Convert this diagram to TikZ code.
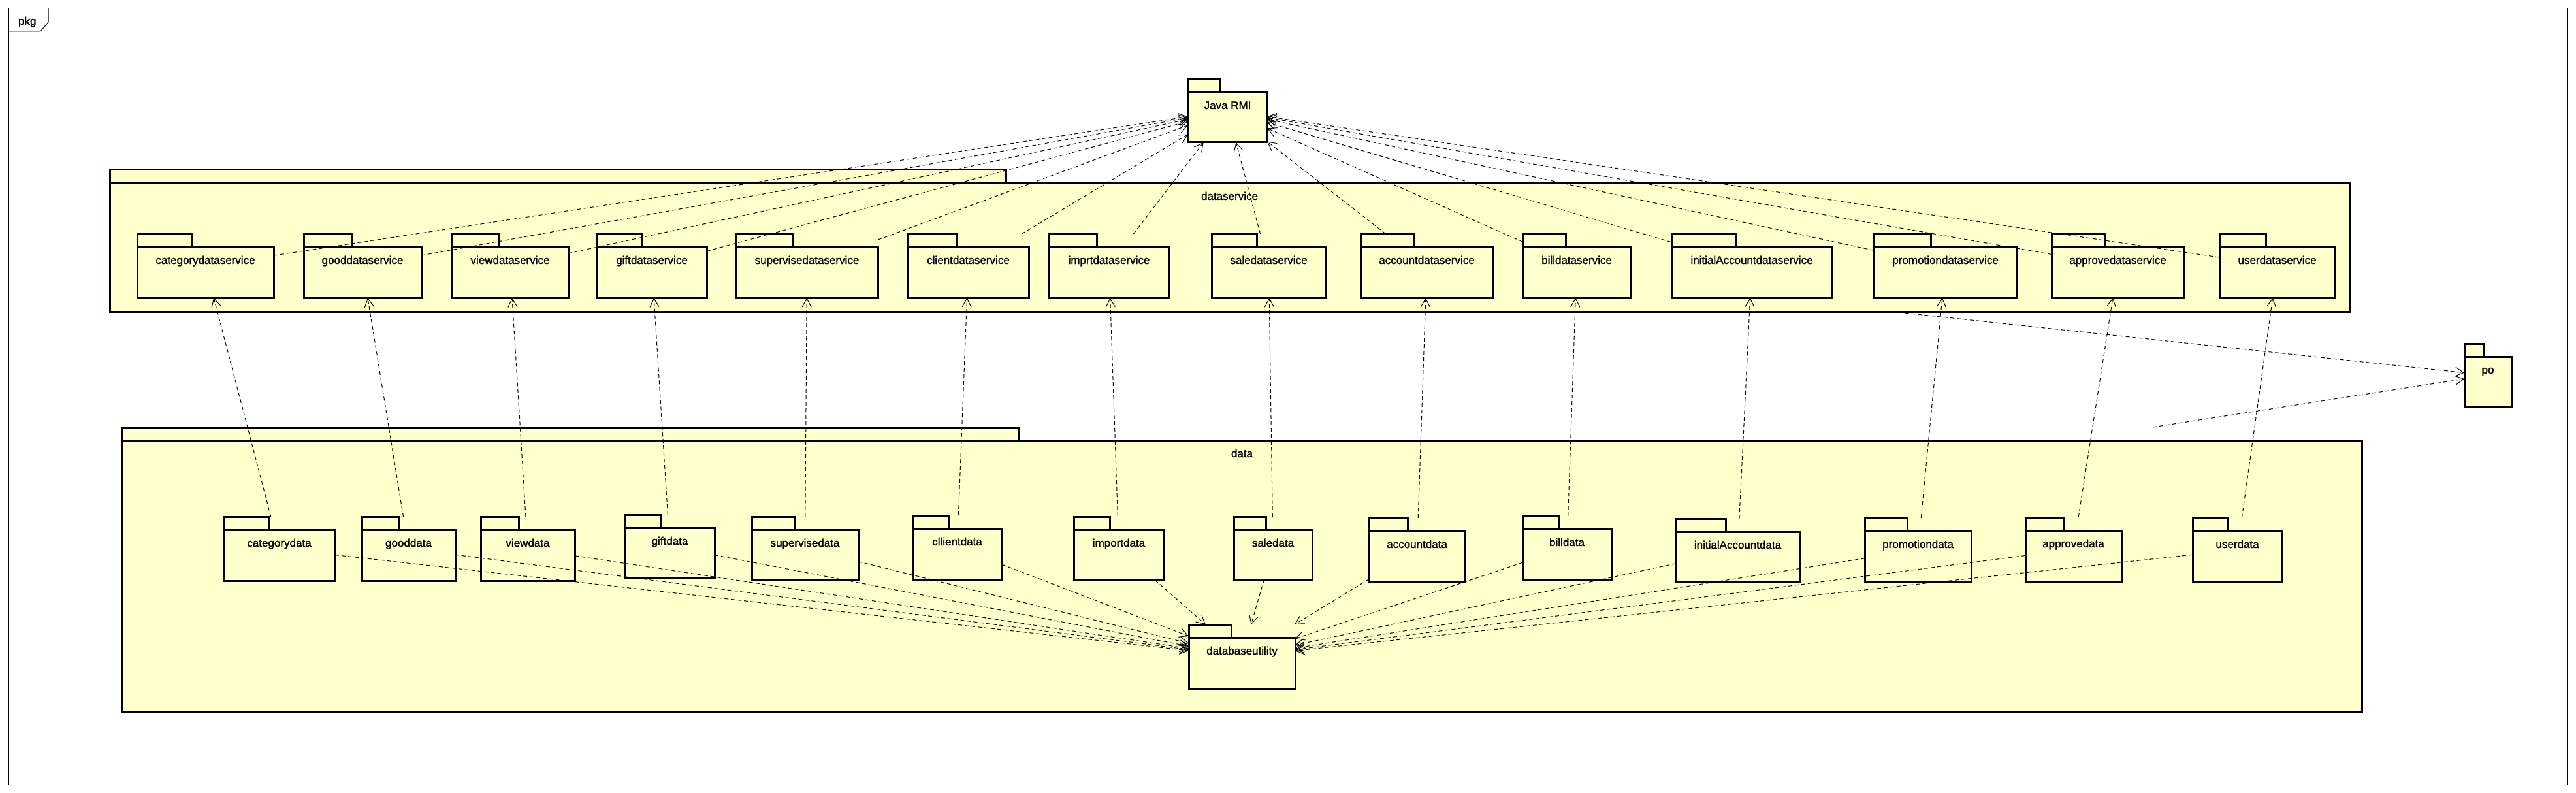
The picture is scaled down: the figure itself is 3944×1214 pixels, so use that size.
\documentclass[tikz,border=0pt]{standalone}
\usepackage{fontspec}
\setmainfont{Liberation Sans}
\newfontfamily\pkgfont{Liberation Sans}[FakeBold=1.5]
\usetikzlibrary{arrows.meta,fit}
\definecolor{pkgfill}{HTML}{FFFFCC}
\tikzset{
  pkgline/.style={draw=black, line width=1.5pt, fill=pkgfill},
  pkglabel/.style={font=\pkgfont\fontsize{8.5pt}{10pt}\selectfont, inner sep=0pt, outer sep=0pt},
  pkgbox/.style={inner sep=0pt, outer sep=0pt},
  dep/.style={line width=0.5pt, dash pattern=on 3pt off 2pt, -{Straight Barb[length=6.5pt,width=7pt]}},
  frameline/.style={draw=black, line width=0.5pt}
}
% #1 name, #2 left, #3 tab top, #4 tab right, #5 body top, #6 right, #7 bottom, #8 label
\newcommand\umlpkg[8]{%
  \draw[pkgline] (#2,#3) rectangle (#4,#5);
  \draw[pkgline] (#2,#5) rectangle (#6,#7);
  \node[pkgbox, fit={(#2,#3) (#6,#7)}] (#1) {};
  \node[pkglabel, anchor=base] (#1-l) at ({(#2+#6)/2},{#5+26}) {#8};
}
\begin{document}
\begin{tikzpicture}[x=0.5pt,y=-0.5pt]
\useasboundingbox (0,0) rectangle (3944,1214);
% frame
\draw[frameline] (13,13) rectangle (3930,1201);
\draw[frameline] (13,48) -- (62,48) -- (74,34) -- (74,13);
\node[pkglabel, anchor=base west] (pkgname) at (28,38) {pkg};

% outer packages
\umlpkg{ds}{168}{260}{1540}{280}{3597}{477}{dataservice}
\umlpkg{data}{187}{654}{1559}{674}{3616}{1089}{data}

% Java RMI and po
\umlpkg{rmi}{1819}{121}{1868}{141}{1940}{218}{Java RMI}
\umlpkg{po}{3773}{526}{3802}{546}{3845}{623}{po}

% dataservice row
\umlpkg{cds}{210}{358}{294}{378}{419}{456}{categorydataservice}
\umlpkg{gds}{465}{358}{538}{378}{645}{456}{gooddataservice}
\umlpkg{vds}{692}{358}{764}{378}{870}{456}{viewdataservice}
\umlpkg{gifds}{914}{358}{982}{378}{1082}{456}{giftdataservice}
\umlpkg{sds}{1127}{358}{1214}{378}{1344}{456}{supervisedataservice}
\umlpkg{clds}{1390}{358}{1464}{378}{1575}{456}{clientdataservice}
\umlpkg{ids}{1606}{358}{1679}{378}{1790}{456}{imprtdataservice}
\umlpkg{sads}{1855}{358}{1924}{378}{2030}{456}{saledataservice}
\umlpkg{ads}{2083}{358}{2164}{378}{2286}{456}{accountdataservice}
\umlpkg{bds}{2332}{358}{2397}{378}{2496}{456}{billdataservice}
\umlpkg{iads}{2559}{358}{2658}{378}{2805}{456}{initialAccountdataservice}
\umlpkg{pds}{2869}{358}{2956}{378}{3088}{456}{promotiondataservice}
\umlpkg{apds}{3141}{358}{3223}{378}{3344}{456}{approvedataservice}
\umlpkg{uds}{3398}{358}{3469}{378}{3575}{456}{userdataservice}

% data row
\umlpkg{cd}{342}{791}{411}{811}{513}{889}{categorydata}
\umlpkg{gd}{554}{791}{611}{811}{697}{889}{gooddata}
\umlpkg{vd}{736}{791}{794}{811}{880}{889}{viewdata}
\umlpkg{gifd}{957}{788}{1012}{808}{1094}{885}{giftdata}
\umlpkg{sd}{1151}{791}{1217}{811}{1314}{888}{supervisedata}
\umlpkg{cld}{1397}{789}{1453}{809}{1534}{887}{cllientdata}
\umlpkg{imd}{1644}{791}{1699}{811}{1782}{888}{importdata}
\umlpkg{sad}{1889}{791}{1938}{811}{2009}{888}{saledata}
\umlpkg{ad}{2096}{793}{2155}{813}{2243}{891}{accountdata}
\umlpkg{bd}{2331}{790}{2386}{810}{2467}{887}{billdata}
\umlpkg{iad}{2566}{794}{2642}{814}{2755}{891}{initialAccountdata}
\umlpkg{pd}{2855}{793}{2920}{813}{3018}{891}{promotiondata}
\umlpkg{apd}{3101}{792}{3160}{812}{3248}{890}{approvedata}
\umlpkg{ud}{3357}{793}{3411}{813}{3494}{891}{userdata}
\umlpkg{dbu}{1820}{956}{1885}{976}{1983}{1054}{databaseutility}

% dependencies
\foreach \a in {cds,gds,vds,gifds,sds,clds,ids,sads,ads,bds,iads,pds,apds,uds}
  \draw[dep] (\a) -- (rmi);
\foreach \a/\b in {cd/cds,gd/gds,vd/vds,gifd/gifds,sd/sds,cld/clds,imd/ids,sad/sads,ad/ads,bd/bds,iad/iads,pd/pds,apd/apds,ud/uds}
  \draw[dep] (\a) -- (\b);
\foreach \a in {cd,gd,vd,gifd,sd,cld,imd,sad,ad,bd,iad,pd,apd,ud}
  \draw[dep] (\a) -- (dbu);
\draw[dep] (ds) -- (po);
\draw[dep] (data) -- (po);
\end{tikzpicture}
\end{document}
